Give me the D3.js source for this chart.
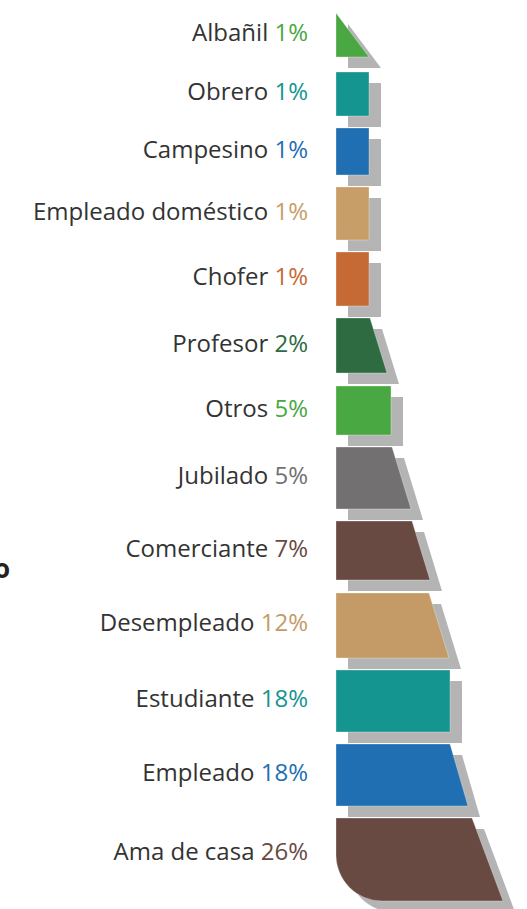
<!DOCTYPE html>
<html>
<head>
<meta charset="utf-8">
<script src="https://cdn.jsdelivr.net/npm/d3@7"></script>
<style>
  html, body { margin: 0; padding: 0; background: #fff; }
  svg { display: block; }
</style>
</head>
<body>
<div id="chart"></div>
<script>
// Occupation shares, top to bottom
const categories = [
  "Albañil", "Obrero", "Campesino", "Empleado doméstico", "Chofer", "Profesor", "Otros",
  "Jubilado", "Comerciante", "Desempleado", "Estudiante", "Empleado", "Ama de casa"
];
const shares = [1, 1, 1, 1, 1, 2, 5, 5, 7, 12, 18, 18, 26];
const colors = [
  "#4aa843", "#14958f", "#1f6fb2", "#c79d68", "#c56a34", "#2e6b40", "#4aa843",
  "#727070", "#684a42", "#c49b66", "#14958f", "#1f6fb2", "#684a42"
];

// Silhouette of the stacked funnel (width units, row units)
const edgeTop =    [0, 33, 33, 33, 33, 34, 55, 56, 76, 93, 114, 114, 136];
const edgeBottom = [33, 33, 33, 33, 33, 51, 55, 75, 94, 113, 114, 132, 167];
const rowHeight =  [44, 44, 47, 53, 54, 55, 49, 62, 59, 65, 62, 62, 83];
const rowGap = [15, 12, 12, 12, 12, 13, 12, 12, 13, 12, 12, 12];

const width = 527;
const height = 909;
const shadowDx = 12;
const shadowDy = 11;

const rows = categories.map((name, i) => {
  const start = d3.sum(rowHeight.slice(0, i)) + d3.sum(rowGap.slice(0, i));
  return {
    name, share: shares[i], color: colors[i],
    top: edgeTop[i], bottom: edgeBottom[i],
    y0: start, y1: start + rowHeight[i], round: i === categories.length - 1
  };
});

const totalRows = d3.sum(rowHeight) + d3.sum(rowGap);
const x = d3.scaleLinear().domain([0, 170]).range([336, 506]);
const y = d3.scaleLinear().domain([0, totalRows]).range([13, 13 + totalRows]);

function bandPath(d) {
  const left = x(0);
  const y0 = y(d.y0), y1 = y(d.y1);
  const p = d3.path();
  p.moveTo(left, y0);
  p.lineTo(x(d.top), y0);
  p.lineTo(x(d.bottom), y1);
  if (d.round) {
    const r = 46;
    p.lineTo(left + r, y1);
    p.arcTo(left, y1, left, y1 - r, r);
  } else {
    p.lineTo(left, y1);
  }
  p.closePath();
  return p.toString();
}

const svg = d3.select("#chart").append("svg")
  .attr("width", width).attr("height", height);

// Heading cut off at the left edge, as in the source
svg.append("text")
  .attr("x", 10).attr("y", 578)
  .attr("text-anchor", "end")
  .attr("font-family", "'Open Sans', sans-serif")
  .attr("font-weight", 700)
  .attr("font-size", 26)
  .attr("fill", "#222")
  .text("Empleo");

svg.append("g").selectAll("path")
  .data(rows)
  .join("path")
  .attr("d", bandPath)
  .attr("transform", `translate(${shadowDx},${shadowDy})`)
  .attr("fill", "#b4b4b4");

svg.append("g").selectAll("path")
  .data(rows)
  .join("path")
  .attr("d", bandPath)
  .attr("fill", (d) => d.color)
  .attr("stroke", "#fff")
  .attr("stroke-opacity", 0.3)
  .attr("stroke-width", 1);

const labels = svg.append("g")
  .attr("font-family", "'Open Sans', sans-serif")
  .attr("font-size", 24)
  .attr("text-anchor", "end");

// Baseline sits a little above the band middle on the tall bottom band
const label = labels.selectAll("text")
  .data(rows)
  .join("text")
  .attr("x", 308)
  .attr("y", (d) => (y(d.y0) + y(d.y1)) / 2 + 6 - Math.max(0, d.y1 - d.y0 - 62) / 4);

label.append("tspan")
  .attr("fill", "#333")
  .text((d) => d.name + " ");
label.append("tspan")
  .attr("fill", (d) => d.color)
  .text((d) => `${d.share}%`);
</script>
</body>
</html>
